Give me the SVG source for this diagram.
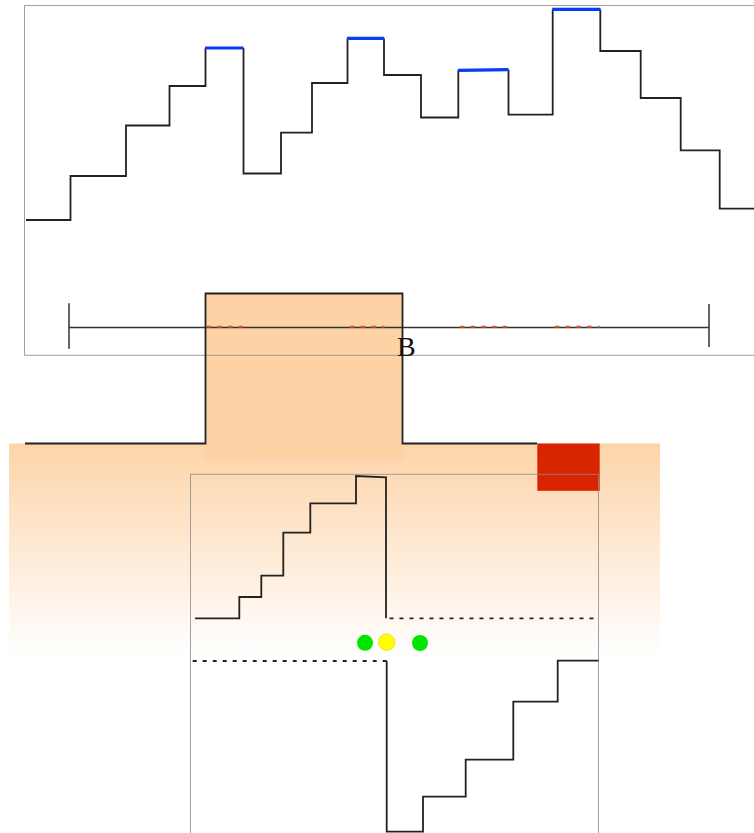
<svg xmlns="http://www.w3.org/2000/svg" width="754" height="833" viewBox="0 0 754 833">
  <defs>
    <linearGradient id="bandFade" x1="0" y1="0" x2="0" y2="1">
      <stop offset="0" stop-color="#fdd4a8"/>
      <stop offset="1" stop-color="#fdd4a8" stop-opacity="0"/>
    </linearGradient>
    <style>
      .frame { fill: none; stroke: #8a8a8a; stroke-opacity: 0.8; stroke-width: 1; }
      .step { fill: none; stroke: #222; stroke-width: 1.8; stroke-linejoin: miter; }
      .peak { fill: none; stroke: #0a3cf5; stroke-width: 3.2; stroke-linecap: butt; }
      .axis { fill: none; stroke: #333; stroke-width: 1.5; }
      .mark { fill: none; stroke: #e0502a; stroke-width: 2; stroke-dasharray: 4.5 6.2; }
      .dash { fill: none; stroke: #222; stroke-width: 1.8; stroke-dasharray: 4 6; }
      .label { font-family: "Liberation Serif", "Times New Roman", serif; font-size: 28px; fill: #111; }
    </style>
  </defs>

  <rect width="754" height="833" fill="#fff"/>

  <!-- upper chart: stepped profile with highlighted plateaus -->
  <g id="upper-profile">
    <path class="step" d="M26,220 H70.5 V176 H126 V125.5 H169.5 V86 H205.5 V48 M243.5,48 V173.5 H281 V132.7 H312 V83 H347.5 V38.5 M384,38.5 V75 H421 V117.5 H458.3 V70 M508.5,70 V114.7 H552.7 V9.5 M600.3,9.5 V51 H640.7 V98 H680.7 V150.3 H719.7 V208.7 H754"/>
    <path class="peak" d="M205,48 H243.5 M347,38.3 H384.3 M458,70.3 L508.7,69.7 M552.2,9.4 H600.6"/>
  </g>

  <!-- shaded band behind the lower section -->
  <g id="band">
    <rect x="9" y="443.5" width="651" height="212" fill="url(#bandFade)"/>
  </g>

  <!-- raised block -->
  <g id="block">
    <rect x="205.5" y="293.5" width="197" height="166.5" fill="#fdd3a6"/>
  </g>

  <!-- upper frame, axis and markers drawn over the block -->
  <g id="upper-frame">
    <rect class="frame" x="24.5" y="5.5" width="740" height="349.8"/>
  </g>
  <g id="axis">
    <path class="axis" d="M69,327.5 H709 M69,303.3 V348.7 M709,304 V347"/>
    <path class="mark" d="M206.7,326.7 H243 M350,326.7 H384.5 M460,326.7 H507 M555,326.7 H599.5"/>
  </g>

  <g id="block-outline">
    <path class="step" stroke-width="2" d="M25,443.5 H205.5 V293.5 H402.5 V443.5 H537"/>
  </g>

  <g id="label-b">
    <text class="label" x="397" y="355.5">B</text>
  </g>

  <!-- red marker square -->
  <g id="marker">
    <rect x="537.3" y="443.5" width="62.4" height="47.3" fill="#d92400"/>
  </g>

  <!-- lower chart -->
  <g id="lower-frame">
    <rect class="frame" x="190.5" y="474.3" width="408" height="380"/>
  </g>
  <g id="lower-profile">
    <path class="step" d="M195,618.3 H239.3 V597 H261.3 V575.7 H283.3 V532.7 H310.3 V503.3 H356 V476 L386,477.3 V618.3"/>
    <path class="dash" d="M389.5,618.3 H596"/>
    <path class="dash" d="M192.7,661 H386.7"/>
    <path class="step" d="M386.7,661 V831.7 H423 V796.7 H465.7 V759.7 H513.3 V701.7 H557.7 V660.7 H598.5"/>
  </g>

  <g id="signals">
    <circle cx="365" cy="642.8" r="8" fill="#00e600"/>
    <circle cx="386.7" cy="642.2" r="8.2" fill="#ffff00" stroke="#e0e000" stroke-width="0.8"/>
    <circle cx="420" cy="643" r="8" fill="#00e600"/>
  </g>
</svg>
